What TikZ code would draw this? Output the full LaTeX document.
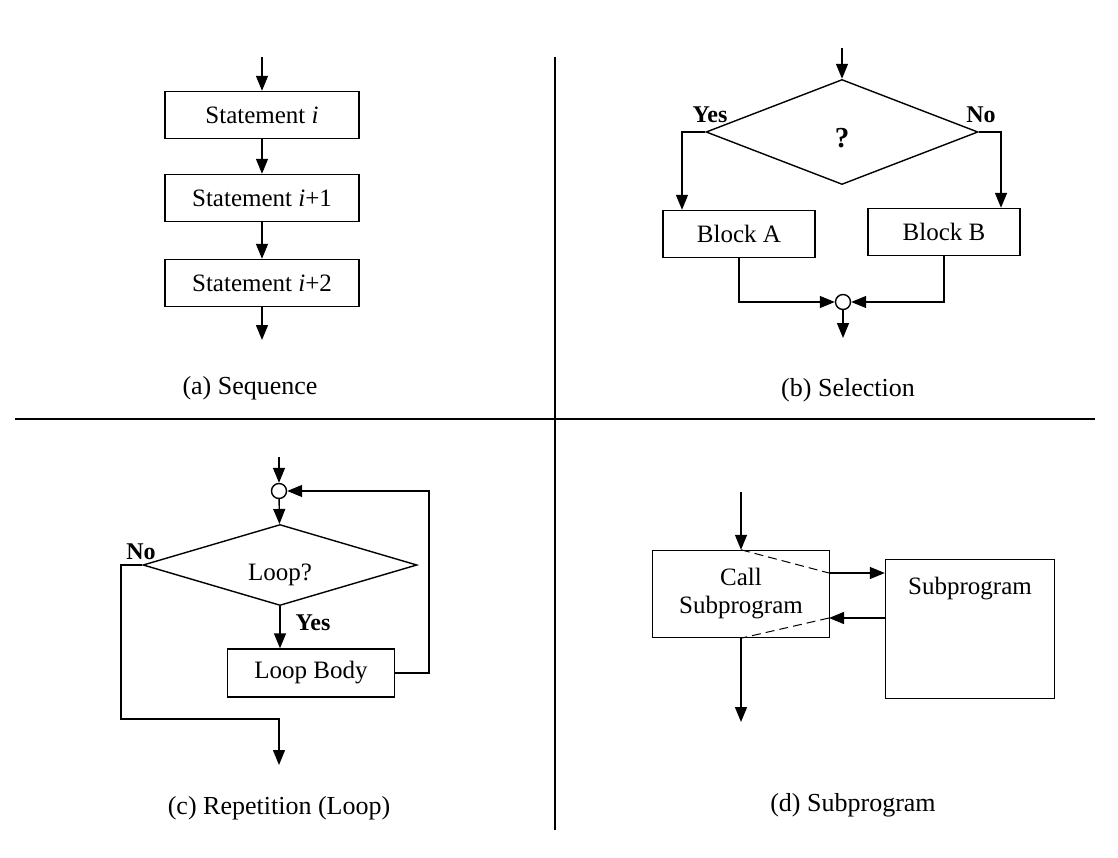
\documentclass[tikz,border=0pt]{standalone}
\usepackage{fontspec}
\setmainfont{Liberation Serif}
\usetikzlibrary{arrows.meta,shapes.geometric}

\begin{document}
\begin{tikzpicture}[x=1pt,y=-1pt,line width=1.4pt,
    >={Triangle[length=15pt,width=12pt]},
    font=\fontsize{25}{28}\selectfont,
    box/.style={draw,inner sep=0pt,minimum width=194pt,minimum height=47pt},
    decide/.style={draw,diamond,inner sep=0pt},
    joint/.style={draw,circle,inner sep=0pt,minimum size=15pt},
    tag/.style={font=\fontsize{24}{28}\selectfont\bfseries},
    caption/.style={font=\fontsize{26}{30}\selectfont},
    call/.style={dashed,line width=1pt,dash pattern=on 9pt off 5pt}]
  \useasboundingbox (0,0) rectangle (1118,858);
  \draw (555,57) -- (555,830);
  \draw (15,419) -- (1095,419);

  \coordinate (a0) at (262,57);
  \node[box] (s1) at (262,115) {Statement \textit{i}};
  \node[box] (s2) at (262,198) {Statement \textit{i}+1};
  \node[box] (s3) at (262,283) {Statement \textit{i}+2};
  \coordinate (a9) at (262,340);
  \draw[->] (a0) -- (s1);
  \draw[->] (s1) -- (s2);
  \draw[->] (s2) -- (s3);
  \draw[->] (s3) -- (a9);
  \node[caption] (capa) at (250,388) {(a) Sequence};

  \coordinate (b0) at (842,48);
  \node[decide,minimum width=272pt,minimum height=105pt] (q) at (842,132)
    {\raisebox{-16pt}[0pt][0pt]{\fontsize{29}{30}\selectfont\bfseries ?}};
  \node[box,minimum width=152pt] (ba) at (739,234) {Block A};
  \node[box,minimum width=152pt] (bb) at (944,232) {Block B};
  \node[joint] (jb) at (843,302) {};
  \coordinate (b9) at (843,338);
  \draw[->] (b0) -- (q);
  \draw[->] (q.west) -| ([xshift=-57pt]ba.north);
  \draw[->] (q.east) -| ([xshift=57pt]bb.north);
  \draw[->] (ba.south) |- (jb.west);
  \draw[->] (bb.south) |- (jb.east);
  \draw[->] (jb) -- (b9);
  \node[tag] (yesb) at (710,115) {Yes};
  \node[tag] (nob) at (981,115) {No};
  \node[caption] (capb) at (848,390) {(b) Selection};

  \coordinate (c0) at (279,457);
  \node[joint] (jc) at (279,491) {};
  \node[decide,minimum width=274pt,minimum height=81pt] (loop) at (280,565)
    {\raisebox{-15pt}[0pt][0pt]{Loop?}};
  \node[box,minimum width=167pt,minimum height=48pt] (body) at (311,673) {Loop Body};
  \coordinate (back) at (429,491);
  \coordinate (out) at (121,719);
  \coordinate (c9) at (279,765);
  \draw[->] (c0) -- (jc);
  \draw[->] (jc) -- (loop);
  \draw[->] (loop.south) -- (loop.south |- body.north);
  \draw[->] (body.east) -| (back) -- (jc.east);
  \draw[->] (loop.west) -| (out) -| (c9);
  \node[tag] (noc) at (141,552) {No};
  \node[tag] (yesc) at (313,623) {Yes};
  \node[caption] (capc) at (279,808) {(c) Repetition (Loop)};

  \coordinate (d0) at (741,492);
  \node[box,minimum width=177pt,minimum height=87pt,align=center] (call) at (741,594)
    {Call\\Subprogram};
  \node[box,minimum width=169pt,minimum height=139pt] (sub) at (970,629) {};
  \node (subt) at (970,589) {Subprogram};
  \coordinate (go) at (829,573);
  \coordinate (ret) at (829,618);
  \coordinate (d9) at (741,722);
  \draw[->] (d0) -- (call);
  \draw[call] (call.north) -- (go);
  \draw[->] (go) -- (go -| sub.west);
  \draw[->] (ret -| sub.west) -- (ret);
  \draw[call] (ret) -- (call.south);
  \draw[->] (call) -- (d9);
  \node[caption] (capd) at (853,805) {(d) Subprogram};
\end{tikzpicture}
\end{document}
